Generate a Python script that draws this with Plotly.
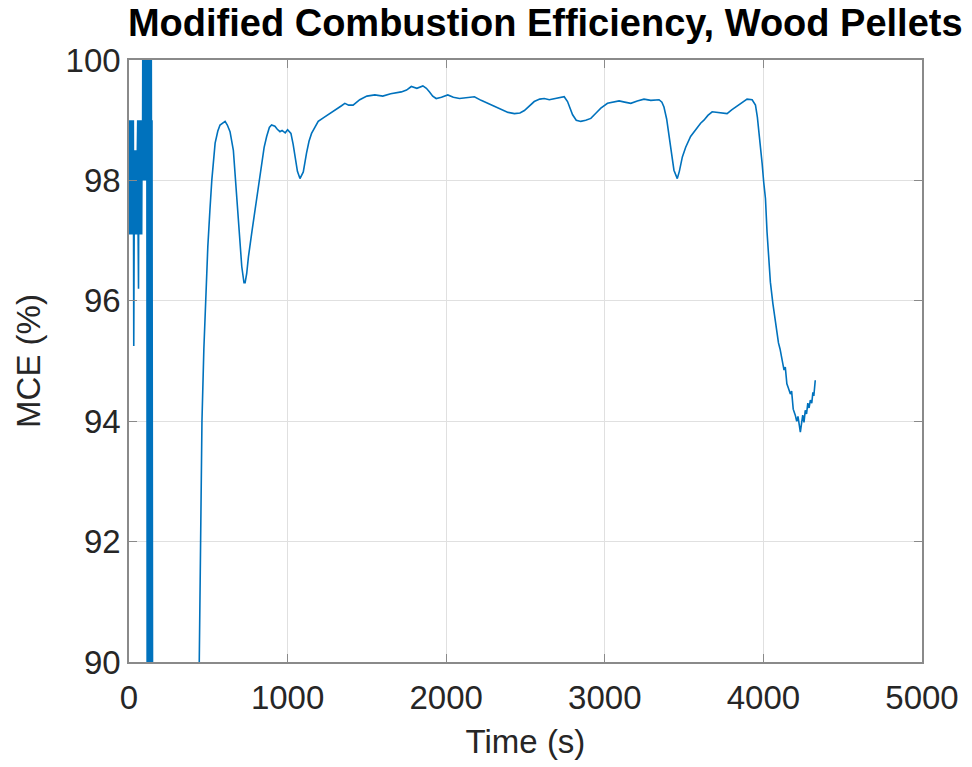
import plotly.graph_objects as go

# Start-up segment: coarse, quantised analyser readings (s, %)
startup_time = [0, 2.5, 5, 7.5, 10, 12.5, 15, 17.5, 20, 22.5, 25, 27.5, 30, 32.5,
                35, 37.5, 40, 42.5, 45, 47.5, 50, 52.5, 55, 57.5, 60, 62.5, 65,
                67.5, 70, 72.5, 75, 77.5, 80, 82.5, 85, 87.5, 90, 92.5, 95, 97.5,
                100, 102.5, 105, 107.5, 110, 112.5, 115, 117.5, 120, 122.5, 125,
                127.5, 130, 132.5, 135, 137.5, 140, 142.5, 145, 147.5, 150]
startup_mce = [99, 97.1, 99, 98, 97.1, 99, 97.1, 98.5, 99, 97.1, 98, 99, 95.25, 97.1,
               98.5, 97.1, 98.5, 98, 97.1, 98.5, 97.1, 98.5, 99, 97.1, 96.2, 99, 97.1,
               98, 99, 97.1, 99, 98.5, 97.1, 99, 98, 101, 98, 99, 101, 98,
               101, 99, 98, 101, 98, 101, 86, 101, 99, 86, 101,
               97.1, 86, 101, 99, 86, 101, 97.1, 99, 86, 85]

# Main burn (s, %)
burn_time = [200, 300, 400, 430, 443, 452, 460, 472, 485, 497, 510, 522, 543, 560,
             574, 590, 606, 620, 637, 658, 679, 695, 711, 725, 732, 742, 753, 775,
             795, 815, 836, 852, 868, 885, 899, 920, 935, 952, 965, 985, 1000, 1021,
             1035, 1046, 1062, 1078, 1090, 1099, 1119, 1135, 1151, 1170, 1193, 1225,
             1256, 1290, 1319, 1340, 1361, 1385, 1413, 1435, 1455, 1500, 1550, 1600,
             1650, 1717, 1750, 1780, 1815, 1853, 1875, 1895, 1915, 1937, 1970, 2010,
             2045, 2084, 2130, 2178, 2220, 2262, 2300, 2346, 2390, 2430, 2465, 2493,
             2525, 2555, 2590, 2618, 2650, 2681, 2715, 2744, 2765, 2780, 2797, 2820,
             2849, 2880, 2912, 2945, 2975, 3017, 3050, 3090, 3125, 3164, 3205, 3247,
             3290, 3342, 3360, 3373, 3390, 3404, 3420, 3436, 3457, 3470, 3489, 3510,
             3541, 3562, 3604, 3625, 3650, 3677, 3720, 3771, 3800, 3835, 3870, 3897,
             3929, 3950, 3962, 3971, 3982, 3992, 4002, 4013, 4023, 4034, 4044, 4060,
             4075, 4095, 4105, 4118, 4130, 4138, 4148, 4159, 4170, 4178, 4188, 4201,
             4210, 4218, 4226, 4233, 4240, 4248, 4256, 4264, 4272, 4280, 4288, 4296,
             4305, 4312, 4318, 4323, 4327]
burn_mce = [80, 78, 82, 87, 90.0, 92.5, 94.0, 95.2, 96.1, 96.9, 97.5, 98.0, 98.62, 98.82,
            98.92, 98.95, 98.98, 98.92, 98.81, 98.5, 97.79, 97.1, 96.57, 96.3, 96.3, 96.45, 96.73, 97.15,
            97.51, 97.92, 98.28, 98.55, 98.73, 98.88, 98.92, 98.90, 98.85, 98.81, 98.83, 98.79, 98.84, 98.78,
            98.6, 98.39, 98.15, 98.03, 98.08, 98.14, 98.45, 98.65, 98.78, 98.88, 98.98, 99.04,
            99.09, 99.15, 99.2, 99.24, 99.28, 99.25, 99.25, 99.3, 99.34, 99.40, 99.42, 99.40,
            99.44, 99.47, 99.5, 99.56, 99.53, 99.57, 99.53, 99.47, 99.4, 99.36, 99.38, 99.42,
            99.38, 99.36, 99.38, 99.39, 99.33, 99.28, 99.23, 99.17, 99.13, 99.11, 99.12, 99.16,
            99.24, 99.31, 99.35, 99.36, 99.34, 99.36, 99.37, 99.39, 99.31, 99.2, 99.09, 99.0,
            98.98, 99.0, 99.03, 99.12, 99.2, 99.28, 99.3, 99.32, 99.3, 99.28, 99.32, 99.35,
            99.33, 99.34, 99.3, 99.22, 99.02, 98.78, 98.45, 98.17, 98.03, 98.15, 98.39, 98.55,
            98.73, 98.81, 98.95, 99.0, 99.08, 99.14, 99.13, 99.11, 99.17, 99.24, 99.3, 99.35,
            99.34, 99.25, 99.05, 98.84, 98.55, 98.28, 97.97, 97.7, 97.14, 96.7, 96.31, 95.95,
            95.65, 95.3, 95.2, 94.98, 94.85, 94.9, 94.62, 94.54, 94.45, 94.5, 94.2, 94.1,
            94.0, 94.08, 93.88, 93.82, 93.95, 94.1, 93.98, 94.18, 94.12, 94.3, 94.22, 94.35,
            94.3, 94.48, 94.42, 94.6, 94.68]

time_s = startup_time + burn_time
mce = startup_mce + burn_mce

x_ticks = [0, 1000, 2000, 3000, 4000, 5000]
y_ticks = [90, 92, 94, 96, 98, 100]

FONT = "Liberation Sans, Arial, Helvetica, sans-serif"
TEXT = "#262626"
FRAME = "#8a8a8a"
GRID = "#e0e0e0"

fig = go.Figure(
    go.Scatter(
        x=time_s,
        y=mce,
        mode="lines",
        line=dict(color="#0072BD", width=1.6),
        showlegend=False,
        hoverinfo="x+y",
    )
)

axis_common = dict(
    showline=True,
    linecolor=FRAME,
    linewidth=1.6,
    mirror="allticks",
    ticks="inside",
    ticklen=8,
    tickwidth=1.2,
    tickcolor=FRAME,
    showgrid=True,
    gridcolor=GRID,
    gridwidth=1,
    zeroline=False,
    tickfont=dict(family=FONT, size=33, color=TEXT),
)

fig.update_xaxes(
    range=[0, 5000],
    tickvals=x_ticks,
    ticktext=[str(v) for v in x_ticks],
    ticklabelstandoff=6,
    title=dict(text="Time (s)", font=dict(family=FONT, size=33, color=TEXT), standoff=14),
    **axis_common,
)
fig.update_yaxes(
    range=[90, 100],
    tickvals=y_ticks,
    ticktext=[str(v) for v in y_ticks],
    title=dict(text="MCE (%)", font=dict(family=FONT, size=33, color=TEXT), standoff=15),
    **axis_common,
)

fig.update_layout(
    width=972,
    height=767,
    margin=dict(l=129, r=50, t=60, b=105),
    paper_bgcolor="white",
    plot_bgcolor="white",
    title=dict(
        text="<b>Modified Combustion Efficiency, Wood Pellets</b>",
        font=dict(family=FONT, size=38, color="#000000"),
        x=0.561,
        xanchor="center",
        y=0.971,
        yanchor="middle",
    ),
)

fig.write_html("out.html")
